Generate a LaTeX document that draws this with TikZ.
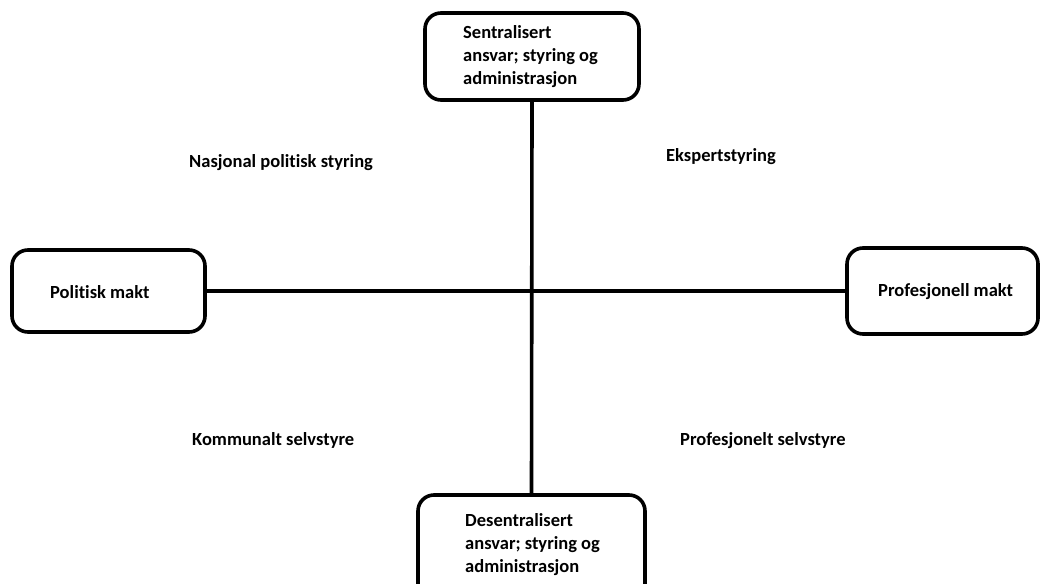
\documentclass[tikz,border=0pt]{standalone}
\usepackage{fontspec}
\setmainfont{Carlito}[Ligatures=NoCommon]
\begin{document}
\begin{tikzpicture}[x=1pt,y=-1pt,
  box/.style={draw=black,line width=3.6pt,rounded corners=16pt,inner sep=0pt},
  lbl/.style={font=\bfseries\fontsize{18.5}{23}\selectfont,inner sep=0pt,anchor=west},
  axis/.style={line width=3.6pt}]
\useasboundingbox (0,0) rectangle (1040,583);
\begin{scope}
\clip (0,0) rectangle (1040,583);
\node[box,minimum width=214pt,minimum height=87pt] (top) at (532,56.5) {};
\node[box,minimum width=227pt,minimum height=115pt] (bot) at (531.5,552.5) {};
\node[box,minimum width=193pt,minimum height=82pt] (left) at (108.5,291) {};
\node[box,minimum width=191pt,minimum height=86pt] (right) at (942.5,291) {};
\draw[axis] (top.south) -- (bot.north);
\draw[axis] (left.east) -- (right.west);
\end{scope}
\node[lbl,align=left] (toptext) at (463,57) {Sentralisert\\ansvar; styring og\\administrasjon};
\node[lbl,align=left] (bottext) at (465,545) {Desentralisert\\ansvar; styring og\\administrasjon};
\node[lbl] (lefttext) at (50,292) {Politisk makt};
\node[lbl] (righttext) at (878,292) {Profesjonell makt};
\node[lbl] (nps) at (189,163) {Nasjonal politisk styring};
\node[lbl] (eks) at (666,157) {Ekspertstyring};
\node[lbl] (kom) at (192,440) {Kommunalt selvstyre};
\node[lbl] (pro) at (680,441) {Profesjonelt selvstyre};
\end{tikzpicture}
\end{document}
